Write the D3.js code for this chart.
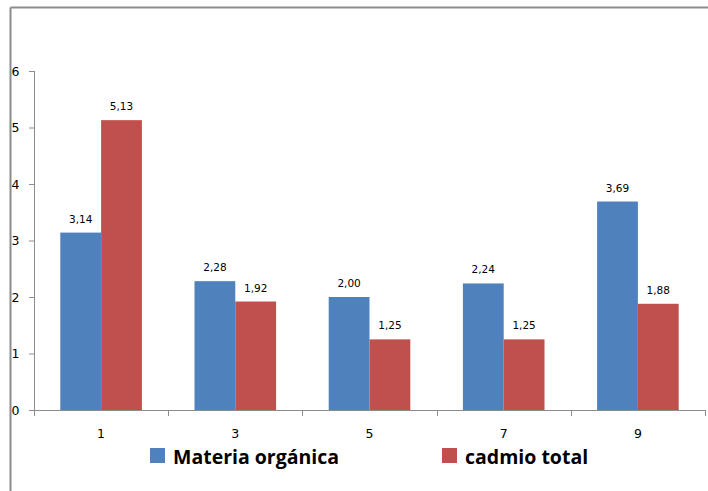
<!DOCTYPE html>
<html>
<head>
<meta charset="utf-8">
<script src="https://cdn.jsdelivr.net/npm/d3@7/dist/d3.min.js"></script>
<style>
  html, body { margin: 0; padding: 0; background: #fff; }
  svg text { font-family: "DejaVu Sans", Verdana, sans-serif; fill: #000; }
  svg text.legend-label { font-family: "Open Sans", "Noto Sans", sans-serif; }
</style>
</head>
<body>
<svg id="chart" width="708" height="491"></svg>
<script>
// Sampling points and the two measured series
const categories = ["1", "3", "5", "7", "9"];
const materiaOrganica = [3.14, 2.28, 2.00, 2.24, 3.69];
const cadmioTotal = [5.13, 1.92, 1.25, 1.25, 1.88];
const seriesNames = ["Materia orgánica", "cadmio total"];
const seriesColors = ["#4F81BD", "#C0504D"];
const yTicks = [0, 1, 2, 3, 4, 5, 6];

const svg = d3.select("#chart");
const margin = { left: 34, right: 3, top: 71, bottom: 81 };
const W = 708, H = 491;
const innerW = W - margin.left - margin.right;
const innerH = H - margin.top - margin.bottom;

// Outer frame lines (top and left)
svg.append("line").attr("x1", 10.5).attr("x2", W).attr("y1", 7.5).attr("y2", 7.5)
  .attr("stroke", "#8c8c8c").attr("stroke-width", 2);
svg.append("line").attr("x1", 10.5).attr("x2", 10.5).attr("y1", 7.5).attr("y2", H)
  .attr("stroke", "#8c8c8c").attr("stroke-width", 2);

const g = svg.append("g").attr("transform", `translate(${margin.left},${margin.top})`);

const x = d3.scaleBand().domain(categories).range([0, innerW]).paddingInner(0).paddingOuter(0);
const inner = d3.scaleBand().domain([0, 1]).range([26.3, x.bandwidth() - 26.3]);
const y = d3.scaleLinear().domain([0, 6]).range([innerH, 0]);

// Y axis
const yAxis = g.append("g").call(d3.axisLeft(y).tickValues(yTicks).tickSize(5).tickPadding(9.5).tickFormat(d3.format("d")));
yAxis.select(".domain").attr("stroke", "#8c8c8c").attr("d", `M0.5,${innerH}V0`);
yAxis.selectAll(".tick line").attr("stroke", "#8c8c8c");
yAxis.selectAll(".tick text").attr("font-size", 12.5).attr("fill", "#000")
  .attr("font-family", "\"DejaVu Sans\", Verdana, sans-serif");

// Bars
const data = categories.map((c, i) => ({ cat: c, vals: [materiaOrganica[i], cadmioTotal[i]] }));
const groups = g.selectAll(".grp").data(data).enter().append("g")
  .attr("transform", d => `translate(${x(d.cat)},0)`);

groups.selectAll("rect").data(d => d.vals.map((v, k) => ({ v, k }))).enter().append("rect")
  .attr("x", d => inner(d.k))
  .attr("width", inner.bandwidth())
  .attr("y", d => y(d.v))
  .attr("height", d => innerH - y(d.v))
  .attr("fill", d => seriesColors[d.k]);

const fmt = v => d3.format(".2f")(v).replace(".", ",");
groups.selectAll("text.val").data(d => d.vals.map((v, k) => ({ v, k }))).enter().append("text")
  .attr("class", "val")
  .attr("x", d => inner(d.k) + inner.bandwidth() / 2)
  .attr("y", d => y(d.v) - 10)
  .attr("text-anchor", "middle")
  .attr("font-size", 10.5)
  .text(d => fmt(d.v));

// X axis with ticks at category boundaries
const xAxisG = g.append("g").attr("transform", `translate(0,${innerH})`);
xAxisG.append("line").attr("x1", 0).attr("x2", innerW).attr("y1", 0.5).attr("y2", 0.5)
  .attr("stroke", "#8c8c8c");
const bounds = categories.map(c => x(c)).concat([innerW]);
xAxisG.selectAll("line.tk").data(bounds).enter().append("line")
  .attr("class", "tk")
  .attr("x1", d => Math.round(d) + 0.5).attr("x2", d => Math.round(d) + 0.5)
  .attr("y1", 0).attr("y2", 6)
  .attr("stroke", "#8c8c8c");
xAxisG.selectAll("text").data(categories).enter().append("text")
  .attr("x", d => x(d) + x.bandwidth() / 2)
  .attr("y", 28)
  .attr("text-anchor", "middle")
  .attr("font-size", 12.5)
  .text(d => d);

// Legend
const legendX = [150, 442];
const legend = svg.append("g");
seriesNames.forEach((name, k) => {
  legend.append("rect").attr("x", legendX[k]).attr("y", 448).attr("width", 15).attr("height", 15)
    .attr("fill", seriesColors[k]);
  legend.append("text").attr("class", "legend-label").attr("x", legendX[k] + 23).attr("y", 463.5)
    .attr("font-size", 19.5).attr("font-weight", "bold").text(name);
});
</script>
</body>
</html>
